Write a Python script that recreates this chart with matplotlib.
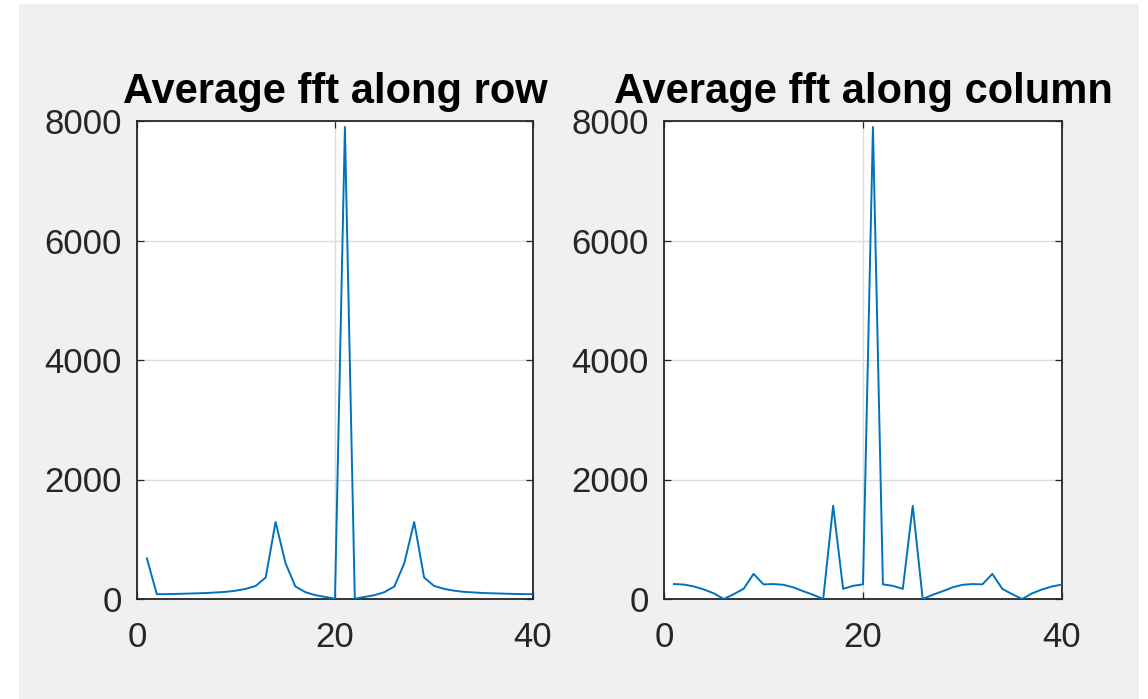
import matplotlib
matplotlib.use("Agg")
import matplotlib.pyplot as plt
from matplotlib.patches import Rectangle

plt.rcParams['font.family'] = ['Liberation Sans', 'DejaVu Sans']

x_vals = list(range(1, 41))
row_fft = [680, 80, 82, 85, 90, 95, 100, 110, 120, 140,
           170, 220, 360, 1290, 600, 210, 115, 65, 35, 5,
           7900, 5, 35, 65, 115, 210, 600, 1290, 360, 220,
           170, 140, 120, 110, 100, 95, 90, 85, 82, 80]
col_fft = [250, 242, 210, 160, 95, 0, 80, 170, 420, 245,
           250, 238, 195, 130, 70, 0, 1560, 170, 220, 245,
           7900, 245, 220, 170, 1560, 0, 70, 130, 195, 238,
           250, 245, 420, 170, 80, 0, 95, 160, 210, 242]
titles = ["Average fft along row", "Average fft along column"]
xticks = [0, 20, 40]
yticks = [0, 2000, 4000, 6000, 8000]

W, H = 1148, 699
fig = plt.figure(figsize=(W / 100, H / 100), dpi=100, facecolor='white')
fig.patches.append(Rectangle((19 / W, 0), (1139 - 19) / W, (699 - 4) / H,
                             transform=fig.transFigure, facecolor='#f0f0f0',
                             edgecolor='none', zorder=-10))

axes_px = [(137, 533), (664, 1062)]
top_px, bot_px = 121, 599
line_color = '#0072bd'
dark = '#262626'

for (l, r), data, title in zip(axes_px, [row_fft, col_fft], titles):
    ax = fig.add_axes([l / W, (H - bot_px) / H, (r - l) / W, (bot_px - top_px) / H])
    ax.set_facecolor('white')
    ax.plot(x_vals, data, color=line_color, lw=1.4, zorder=3)
    ax.set_xlim(0, 40)
    ax.set_ylim(0, 8000)
    ax.set_xticks(xticks)
    ax.set_yticks(yticks)
    ax.grid(True, color='#dcdcdc', lw=1.0)
    ax.set_axisbelow(True)
    for s in ax.spines.values():
        s.set_color(dark)
        s.set_linewidth(1.3)
    ax.tick_params(axis='both', direction='in', length=5, width=0.9,
                   colors=dark, labelsize=25, top=True, right=True)
    ax.tick_params(axis='x', pad=16)
    ax.tick_params(axis='y', pad=11)
    ax.set_title(title, fontsize=30, fontweight='bold', color='black', pad=13)

fig.savefig('out.png', dpi=100, facecolor='white')
